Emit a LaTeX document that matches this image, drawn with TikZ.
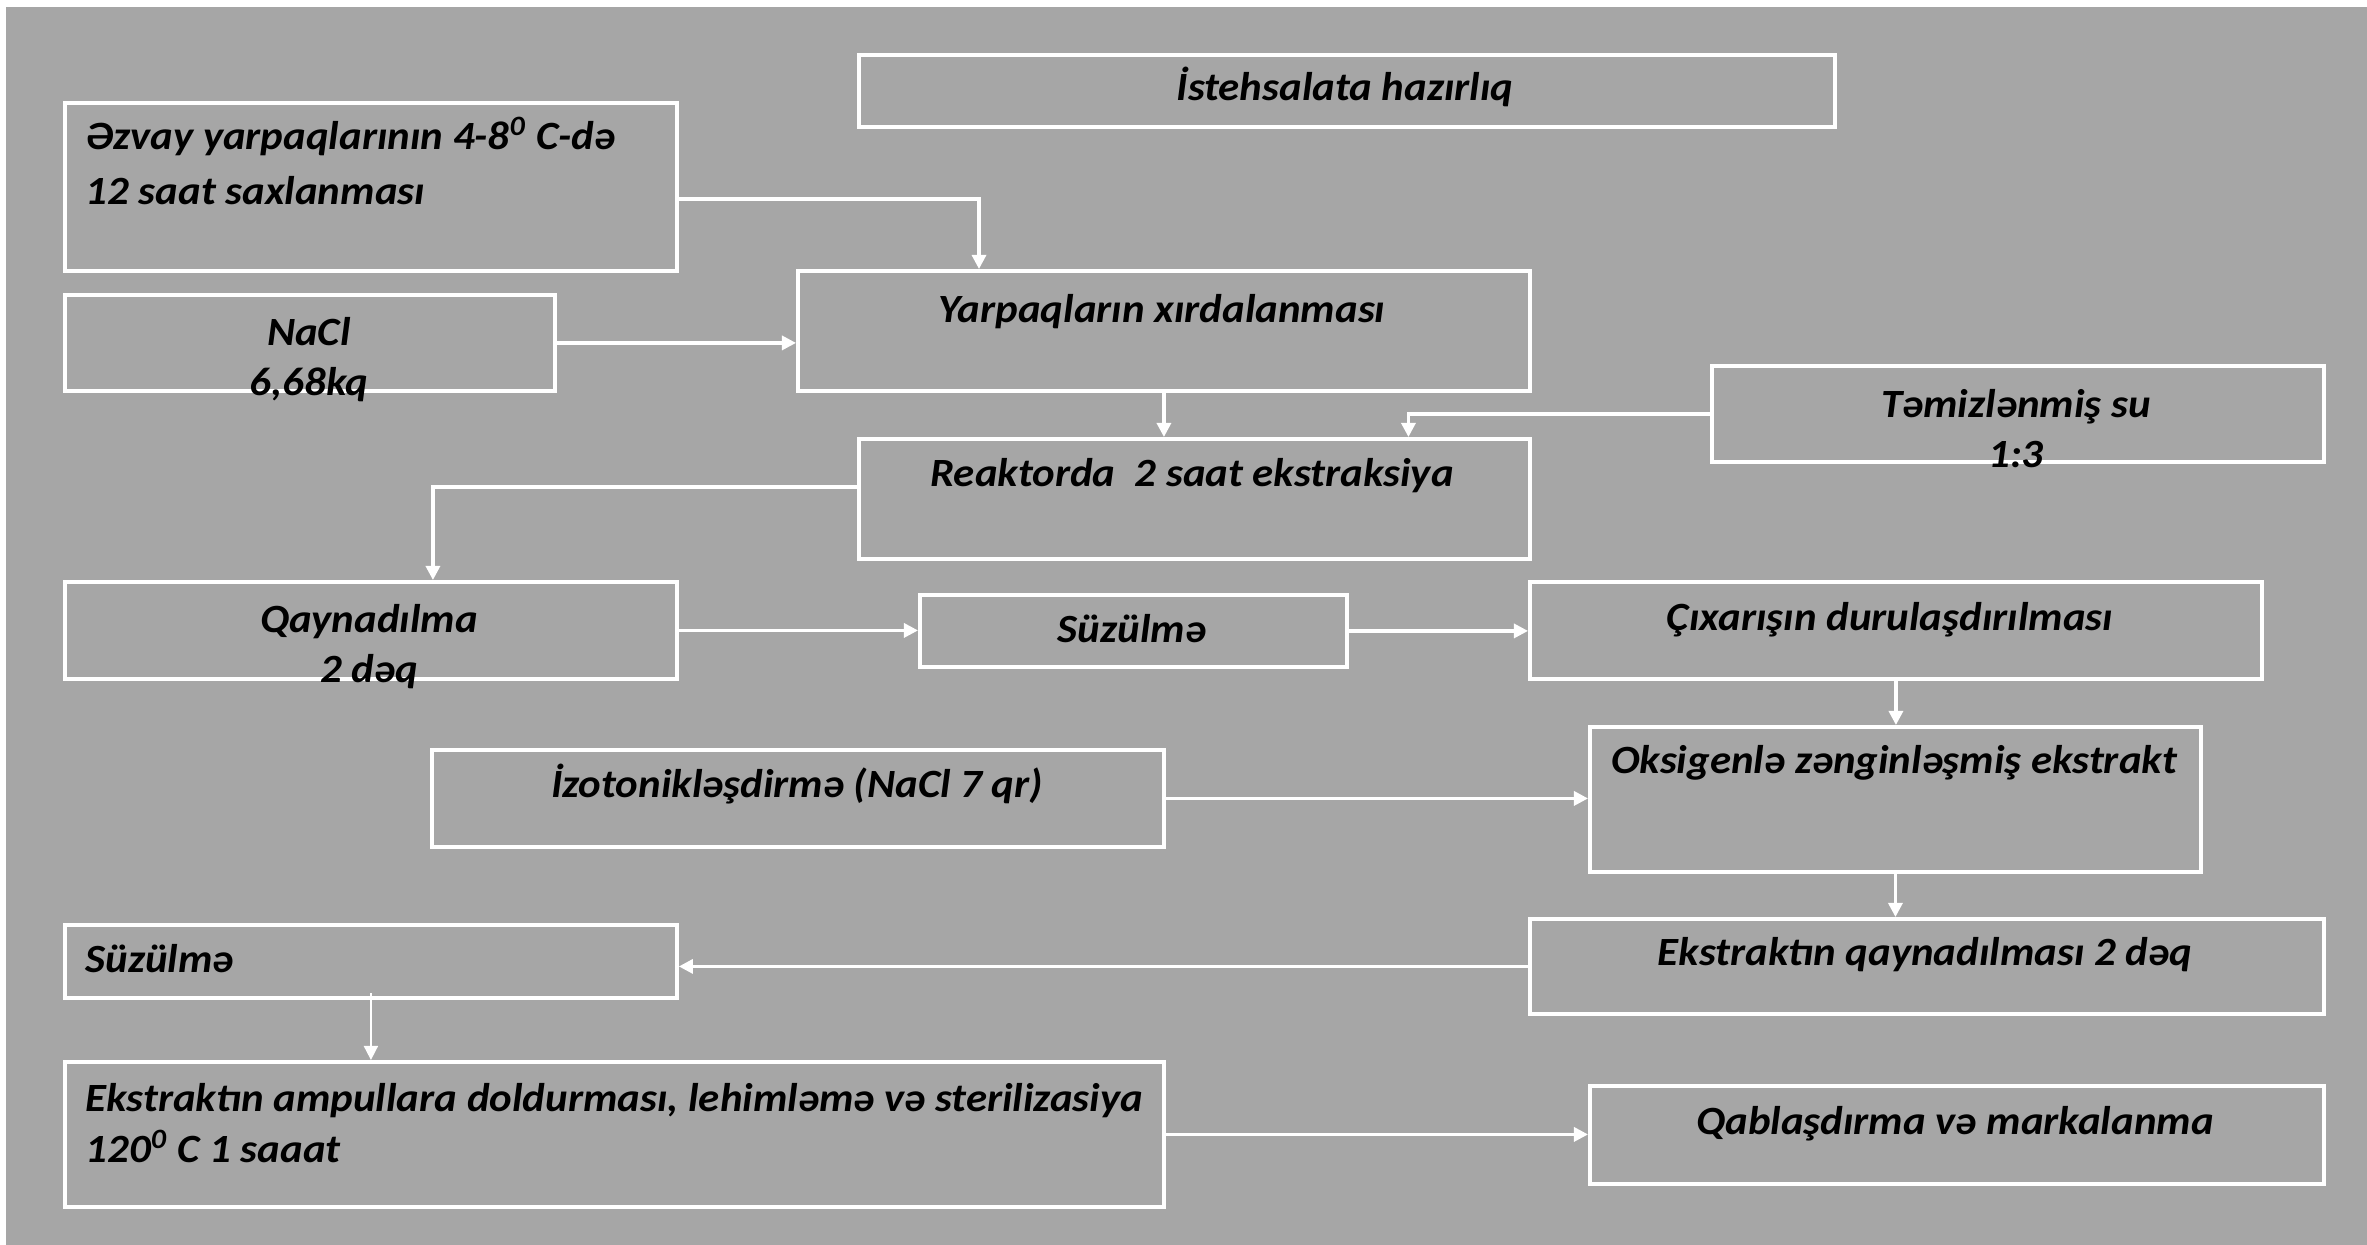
\documentclass[tikz,border=0pt]{standalone}
\usepackage{fontspec}
\setmainfont{Carlito}[FakeStretch=1.07]
\usetikzlibrary{arrows.meta,calc}
\definecolor{slidegray}{RGB}{166,166,166}
\begin{document}
\begin{tikzpicture}
		\tikzset{
			box/.style={draw=white,line width=1.1pt,anchor=north west,inner sep=0pt},
			txt/.style={inner sep=0pt,text=black,font=\fontsize{11.4pt}{14.4pt}\selectfont\bfseries\itshape},
			arr/.style={draw=white,line width=0.9pt,-{Triangle[length=4pt,width=4pt]}}
		}
		\useasboundingbox (0,0) rectangle (23.67,-12.45);
		\fill[white] (0,0) rectangle (23.67,-12.45);
		\fill[slidegray] (0.06,-0.07) rectangle (23.67,-12.45);
		\node[box,minimum width=9.76cm,minimum height=0.72cm] (ist) at (8.57,-0.53) {};
		\node[box,minimum width=6.12cm,minimum height=1.68cm] (zvay) at (0.63,-1.01) {};
		\node[box,minimum width=4.90cm,minimum height=0.96cm] (nacl) at (0.63,-2.93) {};
		\node[box,minimum width=7.32cm,minimum height=1.20cm] (yarp) at (7.96,-2.69) {};
		\node[box,minimum width=6.12cm,minimum height=0.96cm] (tamiz) at (17.10,-3.64) {};
		\node[box,minimum width=6.71cm,minimum height=1.20cm] (reak) at (8.57,-4.37) {};
		\node[box,minimum width=6.12cm,minimum height=0.97cm] (qayn) at (0.63,-5.80) {};
		\node[box,minimum width=4.27cm,minimum height=0.72cm] (suz1) at (9.18,-5.93) {};
		\node[box,minimum width=7.32cm,minimum height=0.97cm] (cix) at (15.28,-5.80) {};
		\node[box,minimum width=7.32cm,minimum height=0.97cm] (izot) at (4.30,-7.48) {};
		\node[box,minimum width=6.11cm,minimum height=1.45cm] (oks) at (15.88,-7.25) {};
		\node[box,minimum width=6.12cm,minimum height=0.73cm] (suz2) at (0.63,-9.23) {};
		\node[box,minimum width=7.94cm,minimum height=0.95cm] (ekst) at (15.28,-9.17) {};
		\node[box,minimum width=10.99cm,minimum height=1.45cm] (amp) at (0.63,-10.60) {};
		\node[box,minimum width=7.34cm,minimum height=0.98cm] (qab) at (15.88,-10.84) {};

		\node[txt,anchor=base] (ist-t) at (13.45,-1.01) {İstehsalata hazırlıq};
		\node[txt,anchor=base west,align=left,font=\fontsize{11.4pt}{15.9pt}\selectfont\bfseries\itshape] (zvay-t) at (0.85,-2.05) {Əzvay yarpaqlarının 4-8\textsuperscript{0} C-də\\12 saat saxlanması};
		\node[txt,anchor=base,align=center] (nacl-t) at (3.09,-3.96) {NaCl\\6,68kq};
		\node[txt,anchor=base] (yarp-t) at (11.62,-3.23) {Yarpaqların xırdalanması};
		\node[txt,anchor=base,align=center] (tamiz-t) at (20.16,-4.68) {Təmizlənmiş su\\1:3};
		\node[txt,anchor=base] (reak-t) at (11.92,-4.87) {Reaktorda\ \ 2 saat ekstraksiya};
		\node[txt,anchor=base,align=center] (qayn-t) at (3.69,-6.83) {Qaynadılma\\2 dəq};
		\node[txt,anchor=base] (suz1-t) at (11.32,-6.43) {Süzülmə};
		\node[txt,anchor=base] (cix-t) at (18.90,-6.31) {Çıxarışın durulaşdırılması};
		\node[txt,anchor=base] (izot-t) at (7.97,-7.98) {İzotonikləşdirmə (NaCl 7 qr)};
		\node[txt,anchor=base] (oks-t) at (18.94,-7.73) {Oksigenlə zənginləşmiş ekstrakt};
		\node[txt,anchor=base west] (suz2-t) at (0.85,-9.72) {Süzülmə};
		\node[txt,anchor=base] (ekst-t) at (19.25,-9.65) {Ekstraktın qaynadılması 2 dəq};
		\node[txt,anchor=base west,align=left] (amp-t) at (0.85,-11.62) {Ekstraktın ampullara doldurması, lehimləmə və sterilizasiya\\120\textsuperscript{0} C 1 saaat};
		\node[txt,anchor=base] (qab-t) at (19.55,-11.34) {Qablaşdırma və markalanma};

		\draw[arr] ($(zvay.east)+(0,-0.12)$) -| ($(yarp.north west)+(1.83,0)$);
		\draw[arr] (nacl.east) -- (nacl.east -| yarp.west);
		\draw[arr] (yarp.south) -- (yarp.south |- reak.north);
		\draw[arr] (tamiz.west) -| ($(reak.north)+(2.14,0)$);
		\draw[arr] ($(reak.west)+(0,0.12)$) -| ($(qayn.north)+(0.62,0)$);
		\draw[arr] (qayn.east) -- (qayn.east -| suz1.west);
		\draw[arr] (suz1.east) -- (suz1.east -| cix.west);
		\draw[arr] (cix.south) -- (cix.south |- oks.north);
		\draw[arr] (izot.east) -- (izot.east -| oks.west);
		\draw[arr] (oks.south) -- (oks.south |- ekst.north);
		\draw[arr] (ekst.west) -- (ekst.west -| suz2.east);
		\draw[arr,line width=0.5pt] ($(suz2.south)+(0,0.07)$) -- (suz2.south |- amp.north);
		\draw[arr] (amp.east) -- (amp.east -| qab.west);
\end{tikzpicture}
\end{document}
